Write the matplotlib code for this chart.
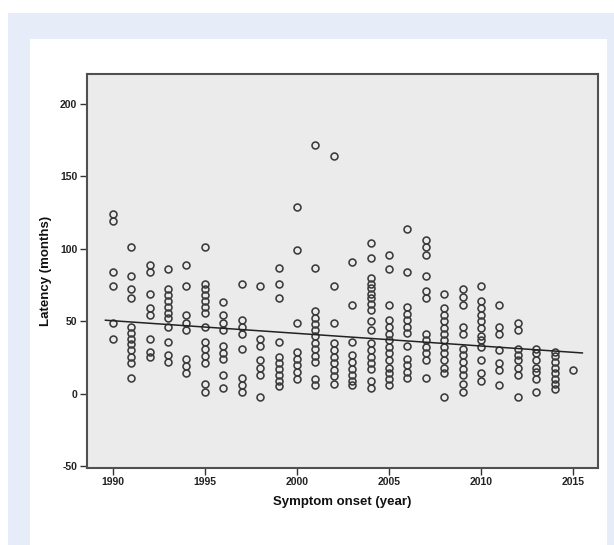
import matplotlib
matplotlib.use("Agg")
import matplotlib.pyplot as plt
from matplotlib.patches import Rectangle
import numpy as np

plt.rcParams['font.family'] = ['Liberation Sans', 'DejaVu Sans']
plt.rcParams['axes.unicode_minus'] = False

# ---- data: latency (months) by year of symptom onset ----
lat_1990 = [124, 119, 84, 74, 49, 38]
lat_1991 = [101, 81, 72, 66, 46, 42, 38, 34, 30, 25, 21, 11]
lat_1992 = [89, 84, 69, 59, 54, 38, 29, 25]
lat_1993 = [86, 72, 68, 64, 60, 56, 52, 46, 36, 27, 22]
lat_1994 = [89, 74, 54, 49, 44, 24, 19, 14]
lat_1995 = [101, 76, 72, 68, 64, 60, 56, 46, 36, 31, 26, 21, 7, 1]
lat_1996 = [63, 54, 49, 44, 33, 28, 24, 13, 4]
lat_1997 = [76, 51, 46, 41, 31, 11, 6, 1]
lat_1998 = [74, 38, 33, 23, 18, 13, -2]
lat_1999 = [87, 76, 66, 36, 25, 21, 17, 13, 9, 5]
lat_2000 = [129, 99, 49, 29, 24, 20, 15, 10]
lat_2001 = [172, 87, 57, 52, 48, 44, 40, 35, 31, 26, 22, 10, 6]
lat_2002 = [164, 74, 49, 35, 30, 25, 21, 16, 12, 7]
lat_2003 = [91, 61, 36, 27, 22, 17, 13, 9, 6]
lat_2004 = [104, 94, 80, 76, 73, 69, 66, 62, 58, 50, 44, 35, 30, 25, 21, 17, 9, 4]
lat_2005 = [96, 86, 61, 51, 46, 41, 37, 32, 28, 23, 18, 14, 10, 6]
lat_2006 = [114, 84, 60, 55, 51, 46, 42, 33, 24, 20, 15, 11]
lat_2007 = [106, 101, 96, 81, 71, 66, 41, 37, 32, 28, 23, 11]
lat_2008 = [69, 59, 54, 50, 45, 41, 37, 32, 28, 23, 18, 14, -2]
lat_2009 = [72, 67, 61, 46, 41, 31, 27, 22, 17, 13, 7, 1]
lat_2010 = [74, 64, 59, 54, 50, 45, 40, 37, 32, 23, 14, 9]
lat_2011 = [61, 46, 41, 30, 21, 16, 6]
lat_2012 = [49, 44, 31, 27, 23, 18, 13, -2]
lat_2013 = [31, 28, 23, 18, 15, 10, 1]
lat_2014 = [29, 26, 22, 18, 14, 10, 7, 3]
lat_2015 = [16]

years = list(range(1990, 2016))
latency_lists = [lat_1990, lat_1991, lat_1992, lat_1993, lat_1994, lat_1995,
                 lat_1996, lat_1997, lat_1998, lat_1999, lat_2000, lat_2001,
                 lat_2002, lat_2003, lat_2004, lat_2005, lat_2006, lat_2007,
                 lat_2008, lat_2009, lat_2010, lat_2011, lat_2012, lat_2013,
                 lat_2014, lat_2015]

# fitted regression line
fit_years = [1989.6, 2015.5]
fit_values = [50.7, 28.1]

x_ticks = [1990, 1995, 2000, 2005, 2010, 2015]
y_ticks = [-50, 0, 50, 100, 150, 200]

x_all = np.concatenate([[y] * len(l) for y, l in zip(years, latency_lists)])
y_all = np.concatenate(latency_lists)

W, H = 614, 545
fig = plt.figure(figsize=(W / 100, H / 100), dpi=100)
fig.patch.set_facecolor('white')

# background panels (pixel coordinates)
fig.patches.append(Rectangle((8 / W, 0), (W - 8) / W, (H - 13) / H,
                             transform=fig.transFigure, facecolor='#e6edf8',
                             edgecolor='none', zorder=-10))
fig.patches.append(Rectangle((30 / W, 0), (607 - 30) / W, (H - 39) / H,
                             transform=fig.transFigure, facecolor='white',
                             edgecolor='none', zorder=-9))

ax = fig.add_axes([87 / W, (H - 467.5) / H, (598 - 87) / W, (467.5 - 73.6) / H])
ax.set_facecolor('#ebebeb')

ax.plot(x_all, y_all, linestyle='none', marker='o', markersize=5.0,
        markerfacecolor='none', markeredgecolor='#3a3a3a', markeredgewidth=1.15,
        zorder=3)
ax.plot(fit_years, fit_values, color='#222222', linewidth=1.1, zorder=4)

ax.set_xlim(1988.6, 2016.35)
ax.set_ylim(-51, 221)
ax.set_xticks(x_ticks)
ax.set_yticks(y_ticks)
ax.tick_params(direction='out', length=5, width=1.0, color='#333333',
               labelsize=7.5, labelcolor='#222222', pad=2)
for lab in ax.get_xticklabels() + ax.get_yticklabels():
    lab.set_fontweight('bold')

for s in ax.spines.values():
    s.set_color('#505050')
    s.set_linewidth(1.5)

ax.set_xlabel('Symptom onset (year)', fontsize=9.5, fontweight='bold',
              color='#111111', labelpad=6)
ax.set_ylabel('Latency (months)', fontsize=9.5, fontweight='bold',
              color='#111111', labelpad=6)

fig.savefig('out.png', dpi=100)
